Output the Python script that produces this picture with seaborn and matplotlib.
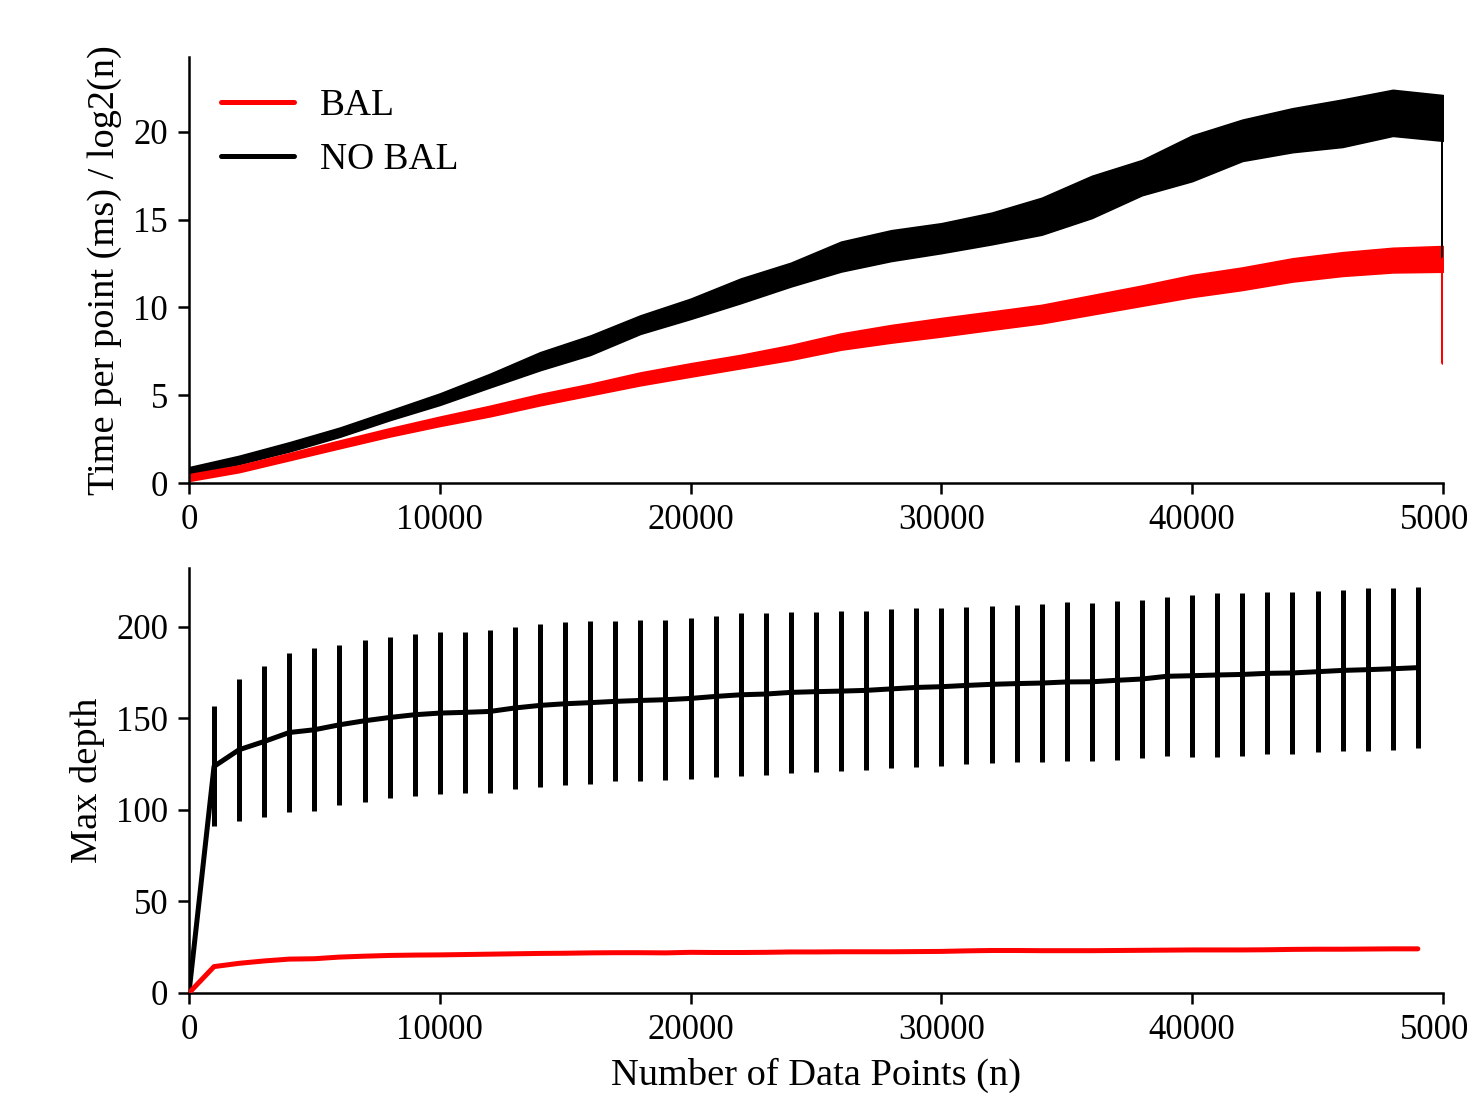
import matplotlib
matplotlib.use("Agg")
import matplotlib.pyplot as plt
import seaborn as sns
import pandas as pd

# top panel: time per point, read as lower/upper edge of the noisy trace every 2000 points
time_x = list(range(0, 50001, 2000))
bal_low = [0.12, 0.62, 1.3, 1.98, 2.65, 3.25, 3.8, 4.43, 5.0, 5.57, 6.06, 6.54, 7.02,
           7.6, 8.0, 8.35, 8.73, 9.1, 9.6, 10.1, 10.6, 11.0, 11.48, 11.8, 12.0, 12.04]
bal_high = [0.5, 1.0, 1.7, 2.42, 3.12, 3.78, 4.4, 5.07, 5.65, 6.3, 6.82, 7.3, 7.86,
            8.52, 9.0, 9.4, 9.77, 10.15, 10.7, 11.25, 11.85, 12.28, 12.8, 13.15, 13.4, 13.5]
nobal_low = [0.5, 1.08, 1.8, 2.63, 3.58, 4.45, 5.45, 6.43, 7.3, 8.5, 9.35, 10.25, 11.2,
             12.05, 12.65, 13.1, 13.6, 14.15, 15.1, 16.4, 17.2, 18.35, 18.85, 19.15, 19.78, 19.5]
nobal_high = [0.9, 1.55, 2.32, 3.15, 4.12, 5.1, 6.22, 7.45, 8.4, 9.55, 10.5, 11.65, 12.55,
              13.75, 14.4, 14.8, 15.4, 16.25, 17.5, 18.4, 19.8, 20.7, 21.35, 21.85, 22.4, 22.1]
# last sample at n = 50000 drops sharply; first sample of BAL spikes
bal_last, nobal_last = 6.9, 11.35
bal_first = 2.0

# bottom panel: max depth every 1000 points
depth_x = list(range(0, 50000, 1000))
bal_depth = [0, 14.4, 16.2, 17.5, 18.5, 18.7, 19.6, 20.1, 20.5, 20.7, 20.8, 21.0, 21.2,
             21.4, 21.6, 21.7, 21.9, 22.0, 22.0, 21.9, 22.2, 22.1, 22.1, 22.2, 22.4,
             22.4, 22.5, 22.5, 22.5, 22.6, 22.7, 23.0, 23.2, 23.2, 23.1, 23.1, 23.1,
             23.2, 23.3, 23.4, 23.5, 23.5, 23.5, 23.6, 23.8, 23.9, 23.9, 24.0, 24.1, 24.1]
nobal_depth = [0, 123.7, 132.8, 137.3, 142.2, 143.7, 146.4, 148.6, 150.4, 151.9, 152.8,
               153.2, 153.7, 155.6, 157.0, 157.9, 158.5, 159.2, 159.7, 160.1, 160.8,
               161.9, 162.8, 163.2, 164.1, 164.5, 164.8, 165.2, 166.0, 166.8, 167.2,
               167.9, 168.5, 168.9, 169.2, 169.8, 169.9, 170.7, 171.4, 172.9, 173.2,
               173.6, 173.9, 174.5, 174.7, 175.4, 176.1, 176.5, 177.0, 177.6]
nobal_err = [0, 32.8, 38.8, 41.0, 43.4, 44.4, 43.7, 44.1, 44.2, 44.3, 44.4, 44.1, 44.4,
             44.1, 44.3, 44.5, 44.3, 43.6, 43.8, 43.7, 44.0, 44.0, 44.4, 44.1, 43.9,
             43.6, 43.6, 43.5, 43.4, 43.4, 43.1, 43.0, 42.9, 42.8, 43.1, 43.4, 43.2,
             43.4, 43.3, 43.5, 44.2, 44.5, 44.4, 44.3, 44.3, 43.9, 44.0, 44.5, 44.3, 43.8]

sns.set_theme(style="ticks", rc={"axes.edgecolor": "black", "text.color": "black",
                                 "axes.labelcolor": "black", "xtick.color": "black",
                                 "ytick.color": "black"})
plt.rcParams["font.family"] = ["Liberation Serif", "DejaVu Serif"]
plt.rcParams["axes.linewidth"] = 0.9
plt.rcParams["xtick.major.size"] = 4
plt.rcParams["ytick.major.size"] = 4
plt.rcParams["xtick.major.width"] = 0.9
plt.rcParams["ytick.major.width"] = 0.9

LW = 1.8
TICK_FS, LABEL_FS, LEG_FS = 12.5, 13.8, 13.5

fig = plt.figure(figsize=(7.335, 5.505), dpi=200)
ax1 = fig.add_axes([0.1288, 0.5613, 0.8548, 0.3869])
ax2 = fig.add_axes([0.1288, 0.0981, 0.8548, 0.3860])

# long table: each n has a low and a high reading; the band spans them
rows = []
for name, lo, hi in [("NO BAL", nobal_low, nobal_high), ("BAL", bal_low, bal_high)]:
    for n, a, b in zip(time_x, lo, hi):
        rows.append({"n": n, "t": a, "series": name})
        rows.append({"n": n, "t": b, "series": name})
top = pd.DataFrame(rows)

for name, color in [("NO BAL", "black"), ("BAL", "red")]:
    sns.lineplot(data=top[top.series == name], x="n", y="t", ax=ax1, color=color,
                 lw=LW, errorbar=("pi", 100), label=name,
                 err_kws={"alpha": 1, "lw": 0.6, "edgecolor": color})

mid_nobal = (nobal_low[-1] + nobal_high[-1]) / 2
mid_bal = (bal_low[-1] + bal_high[-1]) / 2
ax1.plot([time_x[-1], time_x[-1]], [mid_nobal, nobal_last], color="black", lw=LW)
ax1.plot([time_x[-1], time_x[-1]], [mid_bal, bal_last], color="red", lw=LW)
ax1.plot([time_x[0], time_x[0]], [bal_low[0], bal_first], color="#a00000", lw=0.8)

h, l = ax1.get_legend_handles_labels()
order = [l.index("BAL"), l.index("NO BAL")]
ax1.legend([h[i] for i in order], [l[i] for i in order], loc="upper left",
           frameon=False, fontsize=LEG_FS, handlelength=1.95, handletextpad=0.7,
           labelspacing=0.5, borderaxespad=0.45)
ax1.set_xlim(0, 50000)
ax1.set_ylim(0, 24.27)
ax1.set_yticks([0, 5, 10, 15, 20])
ax1.set_xticks(range(0, 50001, 10000))
ax1.set_xlabel("")
ax1.set_ylabel("Time per point (ms) / log2(n)", fontsize=LABEL_FS)

bottom = pd.DataFrame({"n": depth_x, "bal": bal_depth, "nobal": nobal_depth})
ax2.errorbar(depth_x[1:], nobal_depth[1:], yerr=nobal_err[1:], fmt="none",
             ecolor="black", elinewidth=LW, capsize=0, zorder=2)
sns.lineplot(data=bottom, x="n", y="nobal", ax=ax2, color="black", lw=LW,
             estimator=None, zorder=3)
sns.lineplot(data=bottom, x="n", y="bal", ax=ax2, color="red", lw=LW,
             estimator=None, zorder=3)
ax2.set_xlim(0, 50000)
ax2.set_ylim(0, 232)
ax2.set_yticks([0, 50, 100, 150, 200])
ax2.set_xticks(range(0, 50001, 10000))
ax2.set_xlabel("Number of Data Points (n)", fontsize=LABEL_FS)
ax2.set_ylabel("Max depth", fontsize=LABEL_FS)

for ax in (ax1, ax2):
    sns.despine(ax=ax)
    ax.tick_params(labelsize=TICK_FS, colors="black")

fig.savefig("out.png", dpi=200)
